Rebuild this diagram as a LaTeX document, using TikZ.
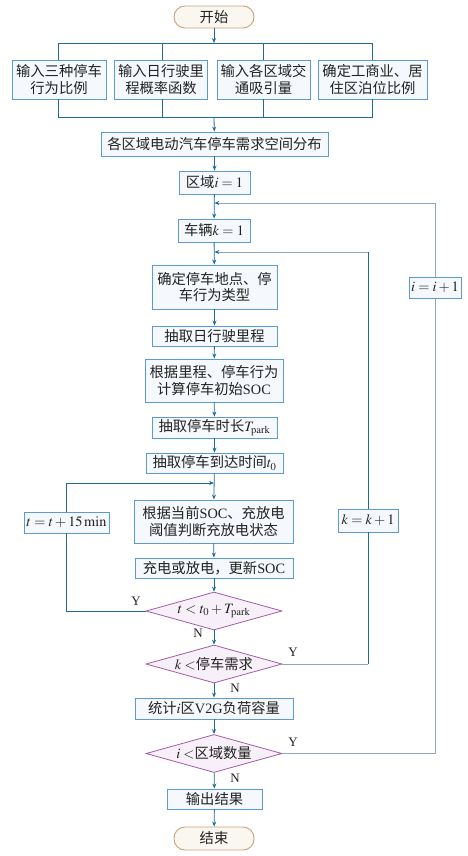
\documentclass[tikz,border=0pt]{standalone}
\usepackage{mathptmx}
\usepackage{fontspec}
\setmainfont{Liberation Serif}
\newfontfamily\cjk{Noto Sans CJK SC}
\usetikzlibrary{shapes.geometric,arrows.meta}
\definecolor{boxblue}{HTML}{5B9BD5}
\definecolor{boxfill}{HTML}{F5F8FC}
\definecolor{lineblue}{HTML}{1F6A96}
\definecolor{loopgray}{HTML}{8EA6BE}
\definecolor{dpurple}{HTML}{A35BA8}
\definecolor{dfill}{HTML}{F8F0F8}
\definecolor{tborder}{HTML}{C8A27C}
\definecolor{tfill}{HTML}{FAF6F0}
\definecolor{textc}{HTML}{222222}
\newcommand\en[1]{{\rmfamily #1}}
\tikzset{
  box/.style={draw=boxblue, fill=boxfill, line width=0.9pt, inner sep=0pt, align=center,
    font=\cjk\fontsize{14.3}{16.5}\selectfont, text=textc},
  term/.style={draw=tborder, fill=tfill, line width=0.9pt, rounded corners=11pt, inner sep=0pt,
    minimum width=80pt, font=\cjk\fontsize{14.3}{16.5}\selectfont, text=textc},
  dec/.style={diamond, aspect=3.6, draw=dpurple, fill=dfill, line width=0.8pt, inner sep=0pt,
    minimum width=136pt, minimum height=38pt, font=\cjk\fontsize{14.3}{16.5}\selectfont, text=textc},
  ln/.style={draw=lineblue, line width=0.8pt},
  arr/.style={ln, -{Stealth[length=5pt,width=4pt,color=lineblue]}},
  gln/.style={draw=loopgray, line width=0.8pt},
  garr/.style={gln, -{Stealth[length=5pt,width=4pt,color=lineblue]}},
  lab/.style={font=\rmfamily\fontsize{13}{13}\selectfont, text=textc, inner sep=0pt}
}
\begin{document}
\begin{tikzpicture}[x=1pt,y=-1pt]
\useasboundingbox (0,0) rectangle (467,856);
% nodes
\node[term, minimum height=22pt] (start) at (214,17) {开始};
\node[box, minimum width=94pt, minimum height=39pt] (in1) at (59,79.5) {输入三种停车\\行为比例};
\node[box, minimum width=93pt, minimum height=39pt] (in2) at (161,79.5) {输入日行驶里\\程概率函数};
\node[box, minimum width=93pt, minimum height=39pt] (in3) at (263.5,79.5) {输入各区域交\\通吸引量};
\node[box, minimum width=109pt, minimum height=39pt] (in4) at (372.5,79.5) {确定工商业、居\\住区泊位比例};
\node[box, minimum width=227pt, minimum height=24pt] (dist) at (214.5,144) {各区域电动汽车停车需求空间分布};
\node[box, minimum width=71pt, minimum height=23pt] (zone) at (214.5,182.5) {区域$i=1$};
\node[box, minimum width=72pt, minimum height=23pt] (veh) at (214,230.5) {车辆$k=1$};
\node[box, minimum width=125pt, minimum height=44pt] (loc) at (214.5,287) {确定停车地点、停\\车行为类型};
\node[box, minimum width=125pt, minimum height=20pt] (mile) at (214.5,336) {抽取日行驶里程};
\node[box, minimum width=138pt, minimum height=43pt] (soc0) at (214,380.5) {根据里程、停车行为\\计算停车初始\en{SOC}};
\node[box, minimum width=125pt, minimum height=21pt] (tpark) at (214.5,427.5) {抽取停车时长$T_{\mathrm{park}}$};
\node[box, minimum width=137pt, minimum height=20pt] (t0) at (214.5,463) {抽取停车到达时间$t_0$};
\node[box, minimum width=159pt, minimum height=43pt] (judge) at (213.5,521.5) {根据当前\en{SOC}、充放电\\阈值判断充放电状态};
\node[box, minimum width=158pt, minimum height=20pt] (upd) at (214,568) {充电或放电，更新\en{SOC}};
\node[dec] (d1) at (214,611) {$t<t_0+T_{\mathrm{park}}$};
\node[dec] (d2) at (214,664) {$k<$停车需求};
\node[box, minimum width=158pt, minimum height=21pt] (stat) at (214,708.5) {统计$i$区\en{V2G}负荷容量};
\node[dec] (d3) at (214,753.5) {$i<$区域数量};
\node[box, minimum width=95pt, minimum height=20pt] (out) at (214.5,799) {输出结果};
\node[term, minimum height=23pt] (end) at (214,838.5) {结束};
\node[box, minimum width=85pt, minimum height=21pt] (tinc) at (66.5,522.5) {$t=t+15\,\mathrm{min}$};
\node[box, minimum width=60pt, minimum height=23pt] (kinc) at (368,520.5) {$k=k+1$};
\node[box, minimum width=52pt, minimum height=21pt] (iinc) at (435,287.5) {$i=i+1$};
% coordinates
\coordinate (bustop) at (214,43);
\coordinate (busbot) at (214,117);
\coordinate (ijoin) at (214,203);
\coordinate (kjoin) at (214,252);
\coordinate (tjoin) at (214,483);
% top bus
\draw[arr] (start) -- (bustop);
\draw[ln] (in1.north -| 58,0) -- (58,43) -- (372,43) -- (in4.north -| 372,0);
\draw[ln] (in2.north -| 162,0) -- (162,43);
\draw[ln] (in3.north -| 263,0) -- (263,43);
% bottom bus
\draw[ln] (in1.south -| 58,0) -- (58,117) -- (372,117) -- (in4.south -| 372,0);
\draw[ln] (in2.south -| 162,0) -- (162,117);
\draw[ln] (in3.south -| 263,0) -- (263,117);
\draw[arr] (busbot) -- (dist);
% main chain
\draw[arr] (dist) -- (zone);
\draw[arr] (zone) -- (veh);
\draw[arr] (veh) -- (loc);
\draw[arr] (loc) -- (mile);
\draw[arr] (mile) -- (soc0);
\draw[arr] (soc0) -- (tpark);
\draw[arr] (tpark) -- (t0);
\draw[arr] (t0) -- (judge);
\draw[arr] (judge) -- (upd);
\draw[arr] (upd) -- (d1);
\draw[arr] (d1) -- (d2);
\draw[arr] (d2) -- (stat);
\draw[arr] (stat) -- (d3);
\draw[arr] (d3) -- (out);
\draw[arr] (out) -- (end);
% t loop
\draw[ln] (d1.west) -| (tinc.south);
\draw[arr] (tinc.north) |- (tjoin);
% k loop
\draw[gln] (d2.east) -- (d2.east -| kinc.south);
\draw[ln] (d2.east -| kinc.south) -- (kinc.south);
\draw[ln] (kinc.north) -- (kinc.north |- kjoin);
\draw[garr] (kinc.north |- kjoin) -- ([xshift=0.4pt]kjoin);
% i loop
\draw[gln] (d3.east) -| (iinc.south);
\draw[gln] (iinc.north) -- (iinc.north |- ijoin);
\draw[garr] (iinc.north |- ijoin) -- ([xshift=0.4pt]ijoin);
% labels
\node[lab] (y1) at (136,601) {Y};
\node[lab] (n1) at (198,633) {N};
\node[lab] (y2) at (293,652) {Y};
\node[lab] (n2) at (235,688) {N};
\node[lab] (y3) at (293,742) {Y};
\node[lab] (n3) at (235,778) {N};
\end{tikzpicture}
\end{document}
